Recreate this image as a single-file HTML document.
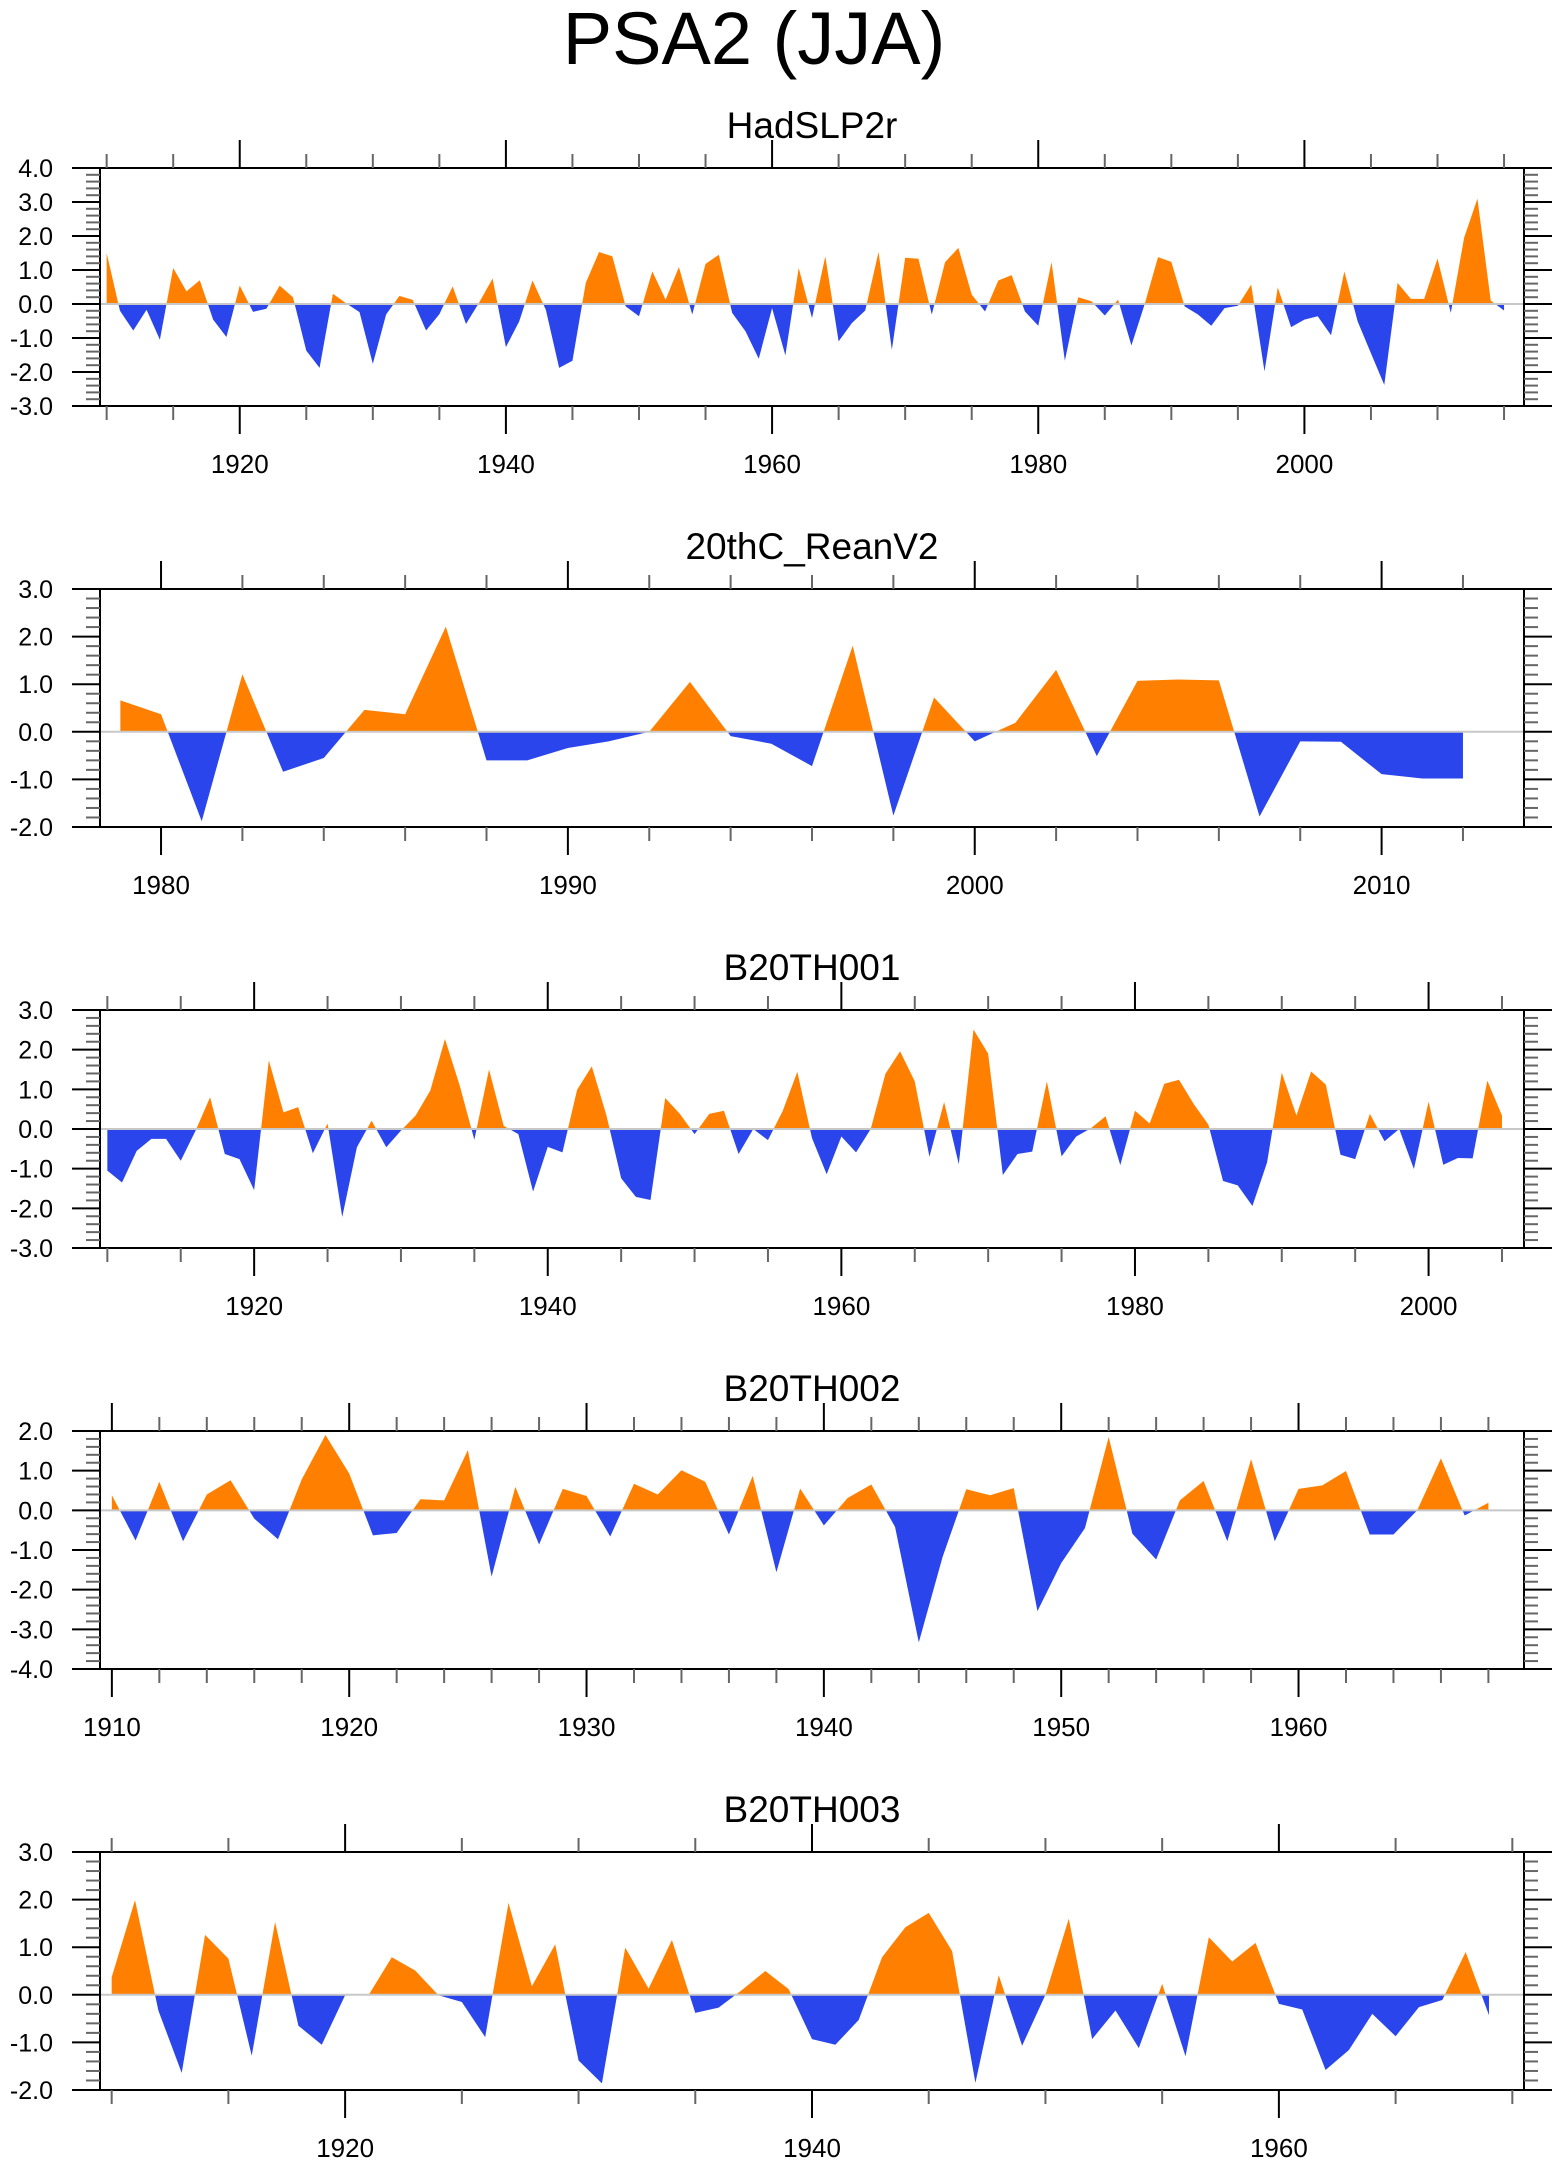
<!DOCTYPE html>
<html><head><meta charset="utf-8"><style>
html,body{margin:0;padding:0;background:#fff;}
svg{display:block;font-family:"Liberation Sans",sans-serif;}
</style></head><body>
<svg id="fig" width="1560" height="2165" viewBox="0 0 1560 2165">
<text x="754" y="64" font-size="74" text-anchor="middle">PSA2 (JJA)</text>
</svg>
<script>
const hadYears0 = 1910;
const hadValues = [1.5,-0.2,-0.78,-0.17,-1.05,1.06,0.37,0.7,-0.46,-0.97,0.54,-0.23,-0.14,0.54,0.2,-1.37,-1.88,0.3,0.02,-0.24,-1.76,-0.31,0.24,0.12,-0.78,-0.3,0.52,-0.59,0.05,0.75,-1.27,-0.51,0.69,-0.17,-1.88,-1.67,0.62,1.53,1.4,-0.07,-0.36,0.96,0.13,1.09,-0.31,1.18,1.45,-0.26,-0.8,-1.61,-0.12,-1.51,1.06,-0.41,1.4,-1.1,-0.56,-0.19,1.53,-1.35,1.36,1.33,-0.31,1.23,1.65,0.28,-0.22,0.69,0.85,-0.22,-0.64,1.23,-1.67,0.2,0.08,-0.34,0.13,-1.22,0.0,1.38,1.24,-0.07,-0.31,-0.64,-0.12,-0.05,0.57,-1.98,0.49,-0.68,-0.46,-0.36,-0.92,0.96,-0.51,-1.45,-2.38,0.62,0.15,0.15,1.34,-0.26,1.95,3.1,0.1,-0.19];
const hadYTicks = [4.0,3.0,2.0,1.0,0.0,-1.0,-2.0,-3.0];
const hadXLabels = [1920,1940,1960,1980,2000];

const reanYears0 = 1979;
const reanValues = [0.66,0.37,-1.88,1.21,-0.84,-0.55,0.46,0.37,2.21,-0.6,-0.6,-0.34,-0.2,0.0,1.05,-0.09,-0.25,-0.72,1.81,-1.76,0.72,-0.2,0.19,1.3,-0.51,1.07,1.1,1.08,-1.78,-0.2,-0.21,-0.89,-0.98,-0.98];
const reanYTicks = [3.0,2.0,1.0,0.0,-1.0,-2.0];
const reanXLabels = [1980,1990,2000,2010];

const b1Years0 = 1910;
const b1Values = [-1.05,-1.35,-0.55,-0.25,-0.25,-0.8,-0.05,0.8,-0.63,-0.76,-1.54,1.73,0.42,0.55,-0.61,0.14,-2.22,-0.46,0.21,-0.46,-0.04,0.34,0.97,2.27,1.1,-0.27,1.5,0.08,-0.13,-1.58,-0.45,-0.59,0.99,1.58,0.34,-1.24,-1.71,-1.79,0.78,0.38,-0.13,0.38,0.46,-0.63,0.0,-0.28,0.45,1.44,-0.23,-1.14,-0.19,-0.59,0.0,1.39,1.96,1.2,-0.7,0.68,-0.89,2.51,1.9,-1.16,-0.63,-0.57,1.2,-0.69,-0.19,0.02,0.32,-0.91,0.46,0.14,1.14,1.24,0.63,0.11,-1.31,-1.42,-1.94,-0.84,1.42,0.34,1.45,1.12,-0.65,-0.76,0.38,-0.31,0.0,-1.01,0.69,-0.9,-0.73,-0.74,1.22,0.34];
const b1YTicks = [3.0,2.0,1.0,0.0,-1.0,-2.0,-3.0];
const b1XLabels = [1920,1940,1960,1980,2000];

const b2Years0 = 1910;
const b2Values = [0.38,-0.76,0.72,-0.78,0.4,0.76,-0.21,-0.73,0.78,1.9,0.93,-0.63,-0.57,0.28,0.25,1.52,-1.67,0.59,-0.86,0.54,0.36,-0.66,0.67,0.4,1.01,0.72,-0.61,0.87,-1.56,0.55,-0.38,0.31,0.65,-0.42,-3.33,-1.18,0.53,0.38,0.56,-2.54,-1.33,-0.45,1.85,-0.59,-1.24,0.25,0.74,-0.78,1.29,-0.78,0.54,0.63,0.99,-0.61,-0.61,0.0,1.31,-0.13,0.19];
const b2YTicks = [2.0,1.0,0.0,-1.0,-2.0,-3.0,-4.0];
const b2XLabels = [1910,1920,1930,1940,1950,1960];

const b3Years0 = 1910;
const b3Values = [0.37,1.99,-0.33,-1.64,1.26,0.76,-1.28,1.53,-0.65,-1.05,-0.01,-0.01,0.79,0.51,-0.01,-0.15,-0.89,1.93,0.18,1.06,-1.38,-1.86,0.99,0.13,1.15,-0.38,-0.27,0.1,0.5,0.12,-0.93,-1.05,-0.53,0.79,1.42,1.72,0.92,-1.85,0.41,-1.07,0.0,1.6,-0.93,-0.33,-1.12,0.23,-1.29,1.21,0.7,1.09,-0.19,-0.31,-1.58,-1.16,-0.4,-0.87,-0.26,-0.11,0.9,-0.43];
const b3YTicks = [3.0,2.0,1.0,0.0,-1.0,-2.0];
const b3XLabels = [1920,1940,1960];

const NS = "http://www.w3.org/2000/svg";
const svg = document.getElementById('fig');
function mk(tag, attrs, parent){ const e=document.createElementNS(NS,tag); for(const k in attrs) e.setAttribute(k,attrs[k]); (parent||svg).appendChild(e); return e; }

let clipId = 0;
function panel(opt){
  const L=100, R=1524, T=opt.top, B=opt.top+238;
  const n = opt.values.length;
  const x0 = opt.year0-0.5, x1 = opt.year0+n-1+1.5;
  const ymin=opt.yTicks[opt.yTicks.length-1], ymax=opt.yTicks[0];
  const sx = v => L+(v-x0)/(x1-x0)*(R-L);
  const sy = v => B-(v-ymin)/(ymax-ymin)*(B-T);
  const g = mk('g',{});
  
  
  const tt = mk('text',{x:(L+R)/2,y:T-30,'font-size':37,'text-anchor':'middle'},g);
  tt.textContent = opt.title;
  
  
  const y0 = sy(0);
  let d = 'M'+sx(opt.year0)+','+y0;
  opt.values.forEach((v,i)=>{ d+=' L'+sx(opt.year0+i).toFixed(2)+','+sy(v).toFixed(2); });
  d += ' L'+sx(opt.year0+n-1)+','+y0+' Z';
  const idA='ca'+(clipId++), idB='cb'+(clipId++);
  const defs = mk('defs',{},g);
  const cA = mk('clipPath',{id:idA},defs); mk('rect',{x:L,y:T,width:R-L,height:y0-T},cA);
  const cB = mk('clipPath',{id:idB},defs); mk('rect',{x:L,y:y0,width:R-L,height:B-y0},cB);
  const pos = mk('path',{d:d,fill:'#ff8000','clip-path':'url(#'+idA+')'},g);
  
  
  const neg = mk('path',{d:d,fill:'#2a45eb','clip-path':'url(#'+idB+')'},g);
  
  
  const zl = mk('line',{x1:L,x2:R,y1:y0,y2:y0,stroke:'#c8c8c8','stroke-width':2},g);
  
  
  const fr = mk('rect',{x:L,y:T,width:R-L,height:B-T,fill:'none',stroke:'#000','stroke-width':2},g);
  
  
  for(let v=ymin; v<=ymax+1e-6; v+=0.2){
    const vv=Math.round(v*10)/10; const y=sy(vv);
    const major = Math.abs(vv-Math.round(vv))<1e-6;
    const len = major?28:14;
    mk('line',{x1:L-len,x2:L,y1:y,y2:y,stroke:major?'#000':'#666','stroke-width':2},g);
    mk('line',{x1:R,x2:R+len,y1:y,y2:y,stroke:major?'#000':'#666','stroke-width':2},g);
  }
  opt.yTicks.forEach(v=>{
    const t=mk('text',{x:53,y:sy(v)+9,'font-size':25,'text-anchor':'end'},g);
    t.textContent=v.toFixed(1);
    
    
  });
  const ystart=Math.ceil(x0), yend=Math.floor(x1);
  for(let yr=ystart; yr<=yend; yr++){
    if(yr%opt.minor!==0) continue;
    const major = yr%opt.major===0; const len=major?28:14; const x=sx(yr);
    mk('line',{x1:x,x2:x,y1:B,y2:B+len,stroke:major?'#000':'#666','stroke-width':2},g);
    mk('line',{x1:x,x2:x,y1:T-len,y2:T,stroke:major?'#000':'#666','stroke-width':2},g);
  }
  opt.xLabels.forEach(yr=>{
    const t=mk('text',{x:sx(yr),y:B+67,'font-size':26,'text-anchor':'middle'},g);
    t.textContent=yr;
    
    
  });
}
panel({name:'hadslp2r',title:'HadSLP2r',top:168,year0:hadYears0,values:hadValues,yTicks:hadYTicks,xLabels:hadXLabels,minor:5,major:20});
panel({name:'20thc-reanv2',title:'20thC_ReanV2',top:589,year0:reanYears0,values:reanValues,yTicks:reanYTicks,xLabels:reanXLabels,minor:2,major:10});
panel({name:'b20th001',title:'B20TH001',top:1010,year0:b1Years0,values:b1Values,yTicks:b1YTicks,xLabels:b1XLabels,minor:5,major:20});
panel({name:'b20th002',title:'B20TH002',top:1431,year0:b2Years0,values:b2Values,yTicks:b2YTicks,xLabels:b2XLabels,minor:2,major:10});
panel({name:'b20th003',title:'B20TH003',top:1852,year0:b3Years0,values:b3Values,yTicks:b3YTicks,xLabels:b3XLabels,minor:5,major:20});
</script>
</body></html>
